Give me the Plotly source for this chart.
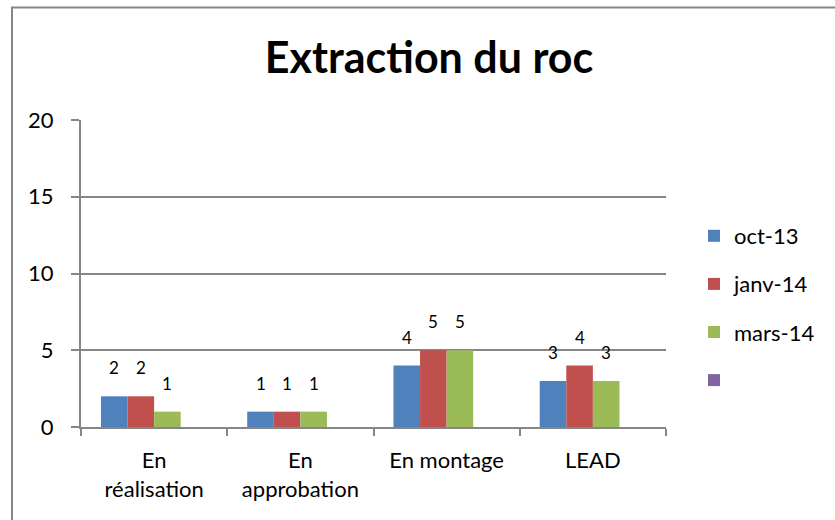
import plotly.graph_objects as go

categories = ["En<br>réalisation", "En<br>approbation", "En montage", "LEAD"]
series_names = ["oct-13", "janv-14", "mars-14", ""]
oct13 = [2, 1, 4, 3]
janv14 = [2, 1, 5, 4]
mars14 = [1, 1, 5, 3]
empty = [None, None, None, None]
colors = ["#4F81BD", "#C0504D", "#9BBB59", "#8064A2"]
y_ticks = [0, 5, 10, 15, 20]

W, H = 835, 520
L, R, T, B = 81, 666, 120, 427
BARGAP = 0.273
def px_x(p):
    return (p - L) / (R - L)
def px_y(p):
    return (B - p) / (B - T)

FONT = "Lato, Calibri, Carlito, sans-serif"

series_vals = [oct13, janv14, mars14, empty]
fig = go.Figure()
for i, (name, vals) in enumerate(zip(series_names, series_vals)):
    fig.add_trace(go.Bar(
        x=categories, y=vals, name=name,
        marker=dict(color=colors[i], line=dict(width=0)),
        legendgroup=str(i),
    ))

# data labels placed above each bar (Excel-style offset)
cat_w = (R - L) / len(categories)
bar_w = cat_w * (1 - BARGAP) / len(series_vals)
for i, vals in enumerate(series_vals):
    for c, v in zip(categories, vals):
        if v is None:
            continue
        fig.add_annotation(x=c, y=v, xref="x", yref="y", text=str(v), showarrow=False,
                           xshift=(i - (len(series_vals) - 1) / 2) * bar_w, yshift=16,
                           yanchor="bottom", xanchor="center",
                           font=dict(size=17, color="black", family=FONT))

fig.update_layout(
    width=W, height=H,
    margin=dict(l=L, r=W - R, t=T, b=H - B, pad=0),
    paper_bgcolor="white", plot_bgcolor="white",
    barmode="group", bargap=BARGAP, bargroupgap=0,
    font=dict(family=FONT, size=22, color="black"),
    title=dict(text="<b>Extraction du roc</b>", x=px_x(429), xref="paper", xanchor="center",
               y=1 - 58 / H, yanchor="middle", font=dict(size=43, family=FONT, color="black")),
    legend=dict(x=px_x(694), xanchor="left", y=px_y(215), yanchor="top",
                font=dict(size=22, family=FONT), tracegroupgap=16.5,
                bgcolor="rgba(0,0,0,0)"),
    showlegend=True,
)
fig.update_xaxes(
    showline=True, linecolor="#868686", linewidth=2,
    ticks="outside", tickson="boundaries", ticklen=7, tickcolor="#868686", tickwidth=1.5,
    showgrid=False, tickfont=dict(size=22), ticklabelstandoff=13,
)
fig.update_yaxes(
    range=[0, 20], tickvals=y_ticks,
    showline=True, linecolor="#868686", linewidth=2,
    ticks="outside", ticklen=8, tickcolor="#868686", tickwidth=1.5,
    showgrid=True, gridcolor="#868686", gridwidth=1.5,
    zeroline=False, tickfont=dict(size=22), ticklabelstandoff=13,
)
fig.add_shape(type="rect", xref="paper", yref="paper",
              x0=px_x(12), x1=px_x(850), y0=px_y(535), y1=px_y(7.5),
              line=dict(color="#868686", width=2), fillcolor="rgba(0,0,0,0)", layer="below")

fig.write_html("out.html", config={"displayModeBar": False},
               post_script="document.body.style.margin='0';document.body.style.overflow='hidden';")
